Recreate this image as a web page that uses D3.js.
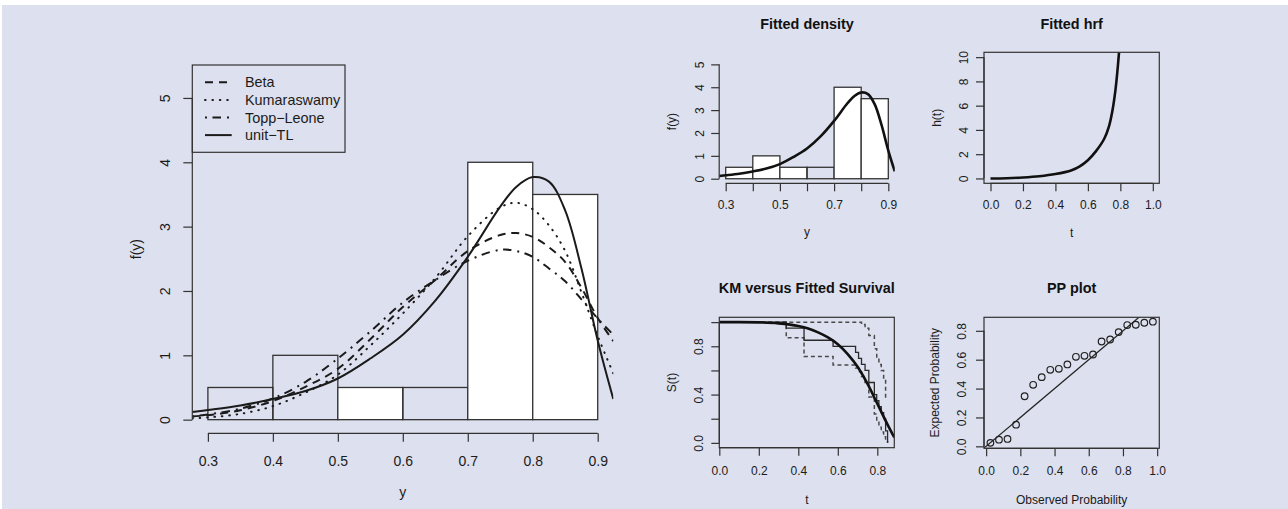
<!DOCTYPE html>
<html>
<head>
<meta charset="utf-8">
<script src="https://cdn.jsdelivr.net/npm/d3@7"></script>
<style>
  html, body { margin: 0; padding: 0; background: #fff; }
  svg { display: block; font-family: 'Liberation Sans', Arial, Helvetica, sans-serif; }
</style>
</head>
<body>
<svg id="chart" width="1288" height="509"></svg>
<script>
// Histogram of the data (density scale)
const breaks = [0.3, 0.4, 0.5, 0.6, 0.7, 0.8, 0.9];
const histDensity = [0.5, 1, 0.5, 0.5, 4, 3.5];

// Fitted densities at these y values
const densityGrid = [0.276, 0.30, 0.35, 0.40, 0.45, 0.50, 0.55, 0.60, 0.65, 0.70, 0.75, 0.775, 0.80, 0.825, 0.85, 0.875, 0.90, 0.924];
const betaPdf      = [0.05, 0.07, 0.145, 0.29, 0.51, 0.79, 1.25, 1.75, 2.17, 2.62, 2.87, 2.90, 2.84, 2.68, 2.45, 2.05, 1.58, 1.22];
const kumaPdf      = [0.02, 0.035, 0.09, 0.21, 0.42, 0.70, 1.15, 1.65, 2.20, 2.85, 3.30, 3.37, 3.27, 3.02, 2.62, 1.98, 1.30, 0.72];
const toppLeonePdf = [0.05, 0.08, 0.17, 0.33, 0.585, 0.95, 1.37, 1.82, 2.17, 2.47, 2.64, 2.62, 2.53, 2.35, 2.15, 1.87, 1.57, 1.32];
const unitTLPdf    = [0.12, 0.15, 0.22, 0.32, 0.445, 0.64, 0.95, 1.32, 1.85, 2.53, 3.31, 3.62, 3.77, 3.70, 3.25, 2.35, 1.23, 0.32];
const legendLabels = ['Beta', 'Kumaraswamy', 'Topp\u2212Leone', 'unit\u2212TL'];

// Fitted hazard rate function
const hrfT = [0, 0.1, 0.2, 0.3, 0.4, 0.5, 0.55, 0.6, 0.65, 0.7, 0.73, 0.75, 0.77, 0.785, 0.80];
const hrfH = [0, 0.02, 0.08, 0.18, 0.36, 0.68, 1.0, 1.5, 2.25, 3.25, 4.3, 5.5, 7.3, 9.3, 11.8];

// Kaplan-Meier estimate with its confidence band
const kmTime  = [0, 0.339, 0.429, 0.576, 0.690, 0.705, 0.720, 0.738, 0.757, 0.785, 0.797, 0.808, 0.820, 0.832, 0.842, 0.852];
const kmSurv  = [1, 0.95, 0.85, 0.80, 0.75, 0.70, 0.65, 0.60, 0.50, 0.40, 0.35, 0.30, 0.25, 0.20, 0.10, 0];
const kmLower = [1, 0.87, 0.715, 0.645, 0.62, 0.59, 0.55, 0.50, 0.38, 0.24, 0.18, 0.13, 0.09, 0.05, 0.01, 0];
const kmUpper = [1, 1, 1, 1, 1, 1, 0.98, 0.95, 0.89, 0.78, 0.70, 0.65, 0.60, 0.53, 0.37, null];

// Fitted survival function
const survT   = [0, 0.1, 0.2, 0.3, 0.4, 0.45, 0.5, 0.55, 0.6, 0.65, 0.7, 0.75, 0.8, 0.85, 0.886];
const survFit = [1, 1, 0.998, 0.99, 0.968, 0.947, 0.915, 0.873, 0.817, 0.735, 0.63, 0.49, 0.325, 0.158, 0.045];

// PP plot
const ppObserved = [0.025, 0.075, 0.125, 0.175, 0.225, 0.275, 0.325, 0.375, 0.425, 0.475, 0.525, 0.575, 0.625, 0.675, 0.725, 0.775, 0.825, 0.875, 0.925, 0.975];
const ppExpected = [0.024, 0.046, 0.051, 0.15, 0.347, 0.426, 0.479, 0.53, 0.537, 0.567, 0.62, 0.627, 0.636, 0.726, 0.74, 0.791, 0.84, 0.842, 0.856, 0.863];

// Ticks and their labels (R drops labels that would overlap)
const mainXTicks = [0.3, 0.4, 0.5, 0.6, 0.7, 0.8, 0.9];
const mainXLabels = ['0.3', '0.4', '0.5', '0.6', '0.7', '0.8', '0.9'];
const mainYTicks = [0, 1, 2, 3, 4, 5];
const mainYLabels = ['0', '1', '2', '3', '4', '5'];
const densXLabels = ['0.3', '', '0.5', '', '0.7', '', '0.9'];
const hrfXTicks = [0, 0.2, 0.4, 0.6, 0.8, 1.0];
const hrfXLabels = ['0.0', '0.2', '0.4', '0.6', '0.8', '1.0'];
const hrfYTicks = [0, 2, 4, 6, 8, 10];
const hrfYLabels = ['0', '2', '4', '6', '8', '10'];
const kmXTicks = [0, 0.2, 0.4, 0.6, 0.8];
const kmXLabels = ['0.0', '0.2', '0.4', '0.6', '0.8'];
const kmYTicks = [0, 0.2, 0.4, 0.6, 0.8, 1.0];
const kmYLabels = ['0.0', '', '0.4', '', '0.8', ''];
const ppXTicks = [0, 0.2, 0.4, 0.6, 0.8, 1.0];
const ppXLabels = ['0.0', '0.2', '0.4', '0.6', '0.8', '1.0'];
const ppYTicks = [0, 0.2, 0.4, 0.6, 0.8];
const ppYLabels = ['0.0', '0.2', '0.4', '0.6', '0.8'];

// Style only: bars that the picture shows without white fill
const mainOpenBins = [0, 1, 3];
const densOpenBins = [3];

const INK = '#1b1b1b';
const AXIS = '#333';

const svg = d3.select('#chart');
const defs = svg.append('defs');
svg.append('rect').attr('x', 2).attr('y', 5).attr('width', 1286).attr('height', 504).attr('fill', '#dde0ee');

function makePanel(id, box, xDom, yDom) {
  defs.append('clipPath').attr('id', 'clip-' + id)
    .append('rect')
    .attr('x', box.x0).attr('y', box.y0)
    .attr('width', box.x1 - box.x0).attr('height', box.y1 - box.y0);
  const g = svg.append('g').attr('class', 'panel panel--' + id);
  const x = d3.scaleLinear().domain(xDom).range([box.x0, box.x1]);
  const y = d3.scaleLinear().domain(yDom).range([box.y1, box.y0]);
  const plot = g.append('g').attr('clip-path', `url(#clip-${id})`);
  return { g, plot, x, y, box };
}

function drawBox(p) {
  p.g.append('rect')
    .attr('x', p.box.x0).attr('y', p.box.y0)
    .attr('width', p.box.x1 - p.box.x0).attr('height', p.box.y1 - p.box.y0)
    .attr('fill', 'none').attr('stroke', AXIS).attr('stroke-width', 1.2);
}

// R-style axis: line only from first to last tick, y labels parallel to the axis
function rAxis(p, side, ticks, labels, opt) {
  const scale = side === 'bottom' ? p.x : p.y;
  const pos = side === 'bottom' ? p.box.y1 : p.box.x0;
  const axis = (side === 'bottom' ? d3.axisBottom(scale) : d3.axisLeft(scale))
    .tickValues(ticks).tickSize(opt.tick).tickFormat((d, i) => labels[i]);
  const ag = p.g.append('g')
    .attr('transform', side === 'bottom' ? `translate(0,${pos})` : `translate(${pos},0)`)
    .call(axis)
    .attr('font-family', null)
    .attr('font-size', opt.size);
  ag.select('.domain').remove();
  ag.selectAll('.tick line').attr('stroke', AXIS).attr('stroke-width', 1.2);
  const txt = ag.selectAll('.tick text').attr('fill', INK);
  if (side === 'bottom') {
    txt.attr('y', opt.offset).attr('dy', '0.36em');
    ag.append('line')
      .attr('x1', scale(ticks[0])).attr('x2', scale(ticks[ticks.length - 1]))
      .attr('stroke', AXIS).attr('stroke-width', 1.2);
  } else {
    txt.attr('x', 0).attr('y', -opt.offset).attr('dy', '0.36em')
      .attr('transform', 'rotate(-90)').attr('text-anchor', 'middle');
    ag.append('line')
      .attr('y1', scale(ticks[0])).attr('y2', scale(ticks[ticks.length - 1]))
      .attr('stroke', AXIS).attr('stroke-width', 1.2);
  }
}

function xTitle(p, text, baseline, size) {
  p.g.append('text').attr('x', (p.box.x0 + p.box.x1) / 2).attr('y', baseline)
    .attr('text-anchor', 'middle').attr('font-size', size).attr('fill', INK).text(text);
}

function yTitle(p, text, cx, size) {
  const cy = (p.box.y0 + p.box.y1) / 2;
  p.g.append('text').attr('transform', `translate(${cx},${cy}) rotate(-90)`)
    .attr('dy', '0.35em').attr('text-anchor', 'middle')
    .attr('font-size', size).attr('fill', INK).text(text);
}

function mainTitle(p, text, baseline) {
  p.g.append('text').attr('x', (p.box.x0 + p.box.x1) / 2).attr('y', baseline)
    .attr('text-anchor', 'middle').attr('font-size', 14.4).attr('font-weight', 'bold')
    .attr('fill', '#111').text(text);
}

function drawHist(p, openBins) {
  p.plot.selectAll('rect.bar').data(histDensity).join('rect')
    .attr('class', 'bar')
    .attr('x', (d, i) => p.x(breaks[i]))
    .attr('y', d => p.y(d))
    .attr('width', (d, i) => p.x(breaks[i + 1]) - p.x(breaks[i]))
    .attr('height', d => p.y(0) - p.y(d))
    .attr('fill', (d, i) => openBins.includes(i) ? 'none' : '#fff')
    .attr('stroke', AXIS).attr('stroke-width', 1.3);
}

// ---------- main panel: histogram with four fitted densities ----------
const main = makePanel('main', { x0: 192.3, x1: 613.3, y0: 65, y1: 433.3 }, [0.276, 0.924], [-0.212, 5.512]);
drawHist(main, mainOpenBins);

const mainSeries = [
  { name: legendLabels[0], values: betaPdf, dash: '8,6', cap: 'butt' },
  { name: legendLabels[1], values: kumaPdf, dash: '0.6,6.8', cap: 'round' },
  { name: legendLabels[2], values: toppLeonePdf, dash: '2,5.5,8.5,6', cap: 'butt' },
  { name: legendLabels[3], values: unitTLPdf, dash: null, cap: 'butt' }
];

const pdfLine = p => d3.line()
  .x((d, i) => p.x(densityGrid[i]))
  .y(d => p.y(d))
  .curve(d3.curveCatmullRom.alpha(0.5));

mainSeries.forEach(s => {
  main.plot.append('path')
    .attr('d', pdfLine(main)(s.values))
    .attr('fill', 'none').attr('stroke', INK).attr('stroke-width', 2)
    .attr('stroke-dasharray', s.dash).attr('stroke-linecap', s.cap);
});

rAxis(main, 'bottom', mainXTicks, mainXLabels, { tick: 8.5, offset: 27.4, size: 14 });
rAxis(main, 'left', mainYTicks, mainYLabels, { tick: 9, offset: 27.3, size: 14 });
xTitle(main, 'y', 497, 14);
yTitle(main, 'f(y)', 136, 14);

// legend (topleft)
const legend = main.g.append('g');
legend.append('rect')
  .attr('x', main.box.x0).attr('y', main.box.y0)
  .attr('width', 152.7).attr('height', 87.3)
  .attr('fill', 'none').attr('stroke', AXIS).attr('stroke-width', 1.2);
mainSeries.forEach((s, i) => {
  const cy = main.box.y0 + 17.3 + i * 17.6;
  legend.append('line')
    .attr('x1', main.box.x0 + 12.7).attr('x2', main.box.x0 + 39.4)
    .attr('y1', cy).attr('y2', cy)
    .attr('stroke', INK).attr('stroke-width', 2)
    .attr('stroke-dasharray', s.dash).attr('stroke-linecap', s.cap);
  legend.append('text')
    .attr('x', main.box.x0 + 52.7).attr('y', cy).attr('dy', '0.36em')
    .attr('font-size', 14.4).attr('fill', INK).text(s.name);
});

// ---------- Fitted density ----------
const dens = makePanel('dens', { x0: 719.2, x1: 894.8, y0: 59.8, y1: 183.3 }, [0.276, 0.924], [-0.2, 5.2]);
drawHist(dens, densOpenBins);
dens.plot.append('path')
  .attr('d', pdfLine(dens)(unitTLPdf))
  .attr('fill', 'none').attr('stroke', '#111').attr('stroke-width', 2.6);
rAxis(dens, 'bottom', mainXTicks, densXLabels, { tick: 8, offset: 21.7, size: 12 });
rAxis(dens, 'left', mainYTicks, mainYLabels, { tick: 8, offset: 20, size: 12 });
mainTitle(dens, 'Fitted density', 28.5);
xTitle(dens, 'y', 235.5, 12);
yTitle(dens, 'f(y)', 672, 12);

// ---------- Fitted hrf ----------
const hrf = makePanel('hrf', { x0: 984, x1: 1159.3, y0: 52.3, y1: 183.3 }, [-0.04, 1.04], [-0.4, 10.4]);
hrf.plot.append('path')
  .attr('d', d3.line().x((d, i) => hrf.x(hrfT[i])).y(d => hrf.y(d)).curve(d3.curveCatmullRom.alpha(0.5))(hrfH))
  .attr('fill', 'none').attr('stroke', '#111').attr('stroke-width', 2.6);
drawBox(hrf);
rAxis(hrf, 'bottom', hrfXTicks, hrfXLabels, { tick: 8, offset: 21.7, size: 12 });
rAxis(hrf, 'left', hrfYTicks, hrfYLabels, { tick: 8, offset: 20.7, size: 12 });
mainTitle(hrf, 'Fitted hrf', 29);
xTitle(hrf, 't', 237, 12);
yTitle(hrf, 'h(t)', 936.7, 12);

// ---------- KM versus fitted survival ----------
const km = makePanel('km', { x0: 719.3, x1: 894.3, y0: 317.3, y1: 447.7 }, [0, 0.886], [-0.04, 1.04]);
const stepLine = d3.line()
  .defined(d => d != null)
  .x((d, i) => km.x(kmTime[i]))
  .y(d => km.y(d))
  .curve(d3.curveStepAfter);
[kmLower, kmUpper].forEach(band => {
  km.plot.append('path').attr('d', stepLine(band))
    .attr('fill', 'none').attr('stroke', '#4a4a4a').attr('stroke-width', 1.5)
    .attr('stroke-dasharray', '4,3');
});
km.plot.append('path').attr('d', stepLine(kmSurv))
  .attr('fill', 'none').attr('stroke', '#2a2a2a').attr('stroke-width', 1.3);
km.plot.append('path')
  .attr('d', d3.line().x((d, i) => km.x(survT[i])).y(d => km.y(d)).curve(d3.curveMonotoneX)(survFit))
  .attr('fill', 'none').attr('stroke', '#111').attr('stroke-width', 2.6);
drawBox(km);
rAxis(km, 'bottom', kmXTicks, kmXLabels, { tick: 8, offset: 23, size: 12 });
rAxis(km, 'left', kmYTicks, kmYLabels, { tick: 8, offset: 21, size: 12 });
mainTitle(km, 'KM versus Fitted Survival', 292.5);
xTitle(km, 't', 504, 12);
yTitle(km, 'S(t)', 672, 12);

// ---------- PP plot ----------
const pp = makePanel('pp', { x0: 984, x1: 1159.3, y0: 317.3, y1: 448.3 }, [-0.0125, 1.0125], [-0.0136, 0.8936]);
const ppDiag = pp.x.domain();
pp.plot.append('path')
  .attr('d', d3.line().x(d => pp.x(d)).y(d => pp.y(d))(ppDiag))
  .attr('fill', 'none').attr('stroke', '#222').attr('stroke-width', 1.2);
pp.plot.selectAll('circle').data(ppExpected).join('circle')
  .attr('cx', (d, i) => pp.x(ppObserved[i]))
  .attr('cy', d => pp.y(d))
  .attr('r', 3.3)
  .attr('fill', 'none').attr('stroke', '#222').attr('stroke-width', 1.2);
drawBox(pp);
rAxis(pp, 'bottom', ppXTicks, ppXLabels, { tick: 8, offset: 22.4, size: 12 });
rAxis(pp, 'left', ppYTicks, ppYLabels, { tick: 8, offset: 22.3, size: 12 });
mainTitle(pp, 'PP plot', 292.5);
xTitle(pp, 'Observed Probability', 503.6, 12);
yTitle(pp, 'Expected Probability', 935, 12);
</script>
</body>
</html>
